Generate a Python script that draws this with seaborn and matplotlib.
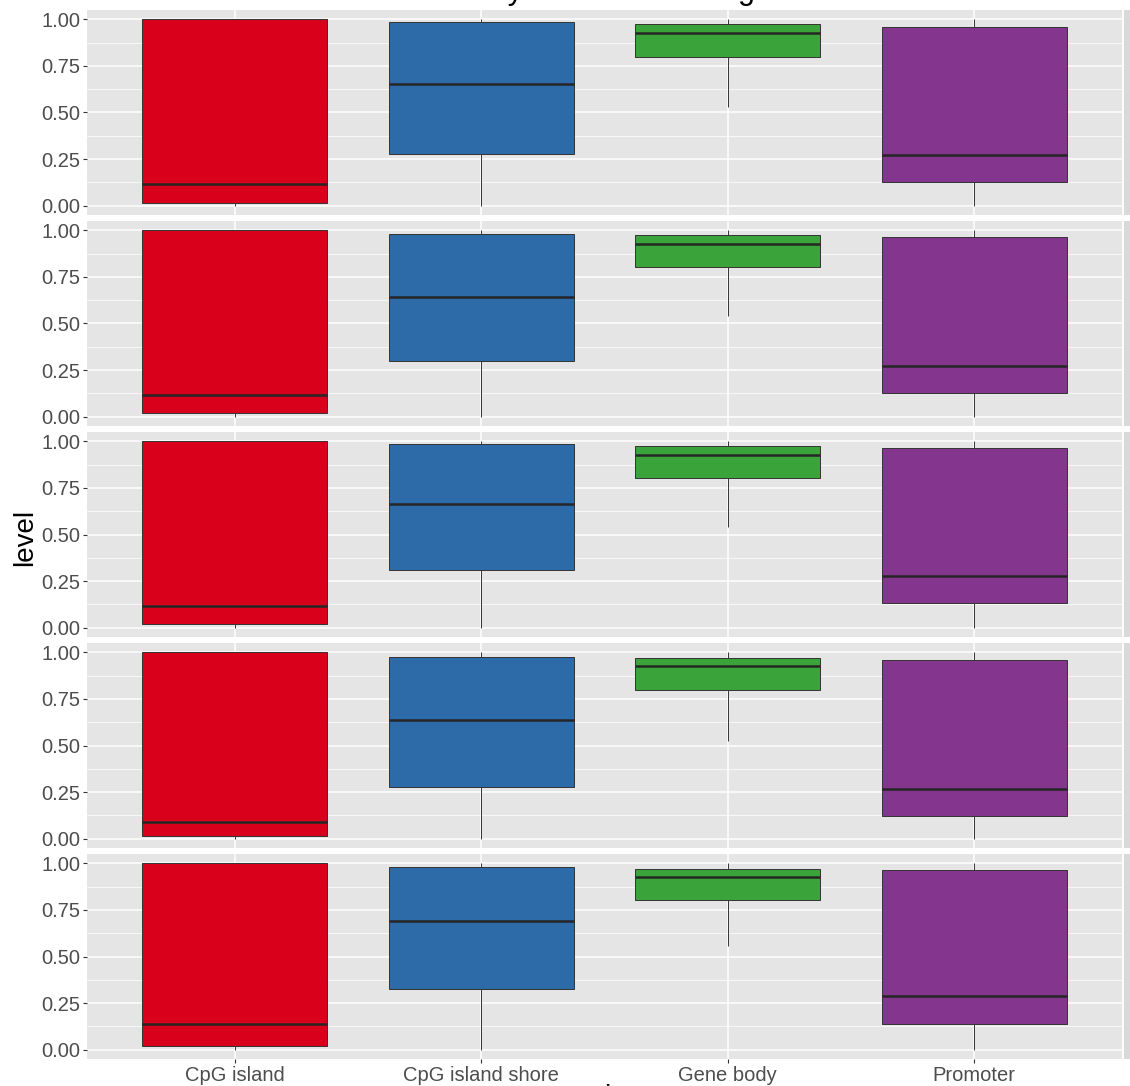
import numpy as np
import pandas as pd
import matplotlib
matplotlib.use("Agg")
import matplotlib.pyplot as plt
import seaborn as sns
from matplotlib.ticker import MultipleLocator

regions = ["CpG island", "CpG island shore", "Gene body", "Promoter"]
samples = ["T1", "T2", "T3", "T4", "T5"]
colors = ["#D9001B", "#2D6AA8", "#3AA43A", "#84368E"]

# five-number summaries per sample (rows) and region (columns)
lower = [[0.00, 0.00, 0.53, 0.00],
         [0.00, 0.00, 0.54, 0.00],
         [0.00, 0.00, 0.54, 0.00],
         [0.00, 0.00, 0.524, 0.00],
         [0.00, 0.00, 0.559, 0.00]]
q1 = [[0.016, 0.278, 0.797, 0.128],
      [0.020, 0.300, 0.802, 0.128],
      [0.020, 0.310, 0.802, 0.134],
      [0.016, 0.278, 0.797, 0.123],
      [0.020, 0.324, 0.803, 0.138]]
median = [[0.118, 0.652, 0.925, 0.273],
          [0.118, 0.642, 0.925, 0.273],
          [0.118, 0.663, 0.925, 0.278],
          [0.091, 0.636, 0.925, 0.267],
          [0.140, 0.690, 0.925, 0.287]]
q3 = [[1.000, 0.984, 0.973, 0.957],
      [1.000, 0.979, 0.973, 0.963],
      [1.000, 0.984, 0.973, 0.963],
      [1.000, 0.973, 0.968, 0.957],
      [1.000, 0.979, 0.968, 0.963]]
upper = [[1.0, 1.0, 1.0, 1.0]] * 5

rows = []
for s, sample in enumerate(samples):
    for r, region in enumerate(regions):
        for v in (lower[s][r], q1[s][r], median[s][r], q3[s][r], upper[s][r]):
            rows.append({"sample": sample, "region": region, "level": v})
df = pd.DataFrame(rows)

sns.set_theme(style="white")
plt.rcParams["font.family"] = ["Liberation Sans", "DejaVu Sans"]

W, H = 1130, 1086
fig = plt.figure(figsize=(W / 100, H / 100), dpi=100)

left, right = 87, 1122
top0, pitch, ph = 10, 211, 205
panel_bg = "#E5E5E5"

for i, sample in enumerate(samples):
    yt = top0 + pitch * i
    ax = fig.add_axes([left / W, (H - yt - ph) / H, (right - left) / W, ph / H])
    ax.set_facecolor(panel_bg)
    sub = df[df["sample"] == sample]
    sns.boxplot(data=sub, x="region", y="level", hue="region", order=regions,
                hue_order=regions, palette=colors, saturation=1, width=0.75,
                whis=(0, 100), showcaps=False, showfliers=False, legend=False,
                linecolor="#333333", linewidth=0.7,
                medianprops=dict(color="#262626", linewidth=1.8),
                ax=ax)
    ax.set_xlim(-0.6, 3.6)
    ax.set_ylim(-0.05, 1.05)
    ax.yaxis.set_major_locator(MultipleLocator(0.25))
    ax.yaxis.set_minor_locator(MultipleLocator(0.125))
    ax.set_yticks([0, 0.25, 0.5, 0.75, 1.0])
    ax.set_yticklabels(["0.00", "0.25", "0.50", "0.75", "1.00"])
    ax.grid(True, which="major", color="white", linewidth=1.1)
    ax.grid(True, which="minor", axis="y", color="white", linewidth=0.5)
    ax.set_axisbelow(True)
    for sp in ax.spines.values():
        sp.set_visible(False)
    ax.tick_params(axis="y", which="major", length=3, width=0.8, color="#333333",
                   labelsize=14.5, labelcolor="#4D4D4D", pad=2, left=True)
    ax.tick_params(axis="y", which="minor", length=0)
    ax.set_ylabel("")
    ax.set_xlabel("")
    if i < len(samples) - 1:
        ax.tick_params(axis="x", bottom=False, labelbottom=False)
    else:
        ax.tick_params(axis="x", length=3, width=0.8, color="#333333",
                       labelsize=14.5, labelcolor="#4D4D4D", pad=2, bottom=True)

    # facet strip on the right
    sax = fig.add_axes([(right + 2) / W, (H - yt - ph) / H, 26 / W, ph / H])
    sax.set_facecolor("#D9D9D9")
    sax.set_xticks([])
    sax.set_yticks([])
    for sp in sax.spines.values():
        sp.set_visible(False)
    sax.text(0.5, 0.5, sample, rotation=-90, ha="center", va="center",
             fontsize=9, color="#1A1A1A", transform=sax.transAxes)

fig.text(25 / W, 0.5 + (H / 2 - 537) / H, "level", rotation=90, ha="center",
         va="center", fontsize=20, color="black")
fig.text(0.547, 1.0 + 1.5 / H, "Methylation in each region", ha="center",
         va="baseline", fontsize=22, color="black")
fig.text(604 / W, 1 - 1084 / H, "region", ha="center", va="top",
         fontsize=20, color="black")

fig.savefig("out.png", dpi=100)
